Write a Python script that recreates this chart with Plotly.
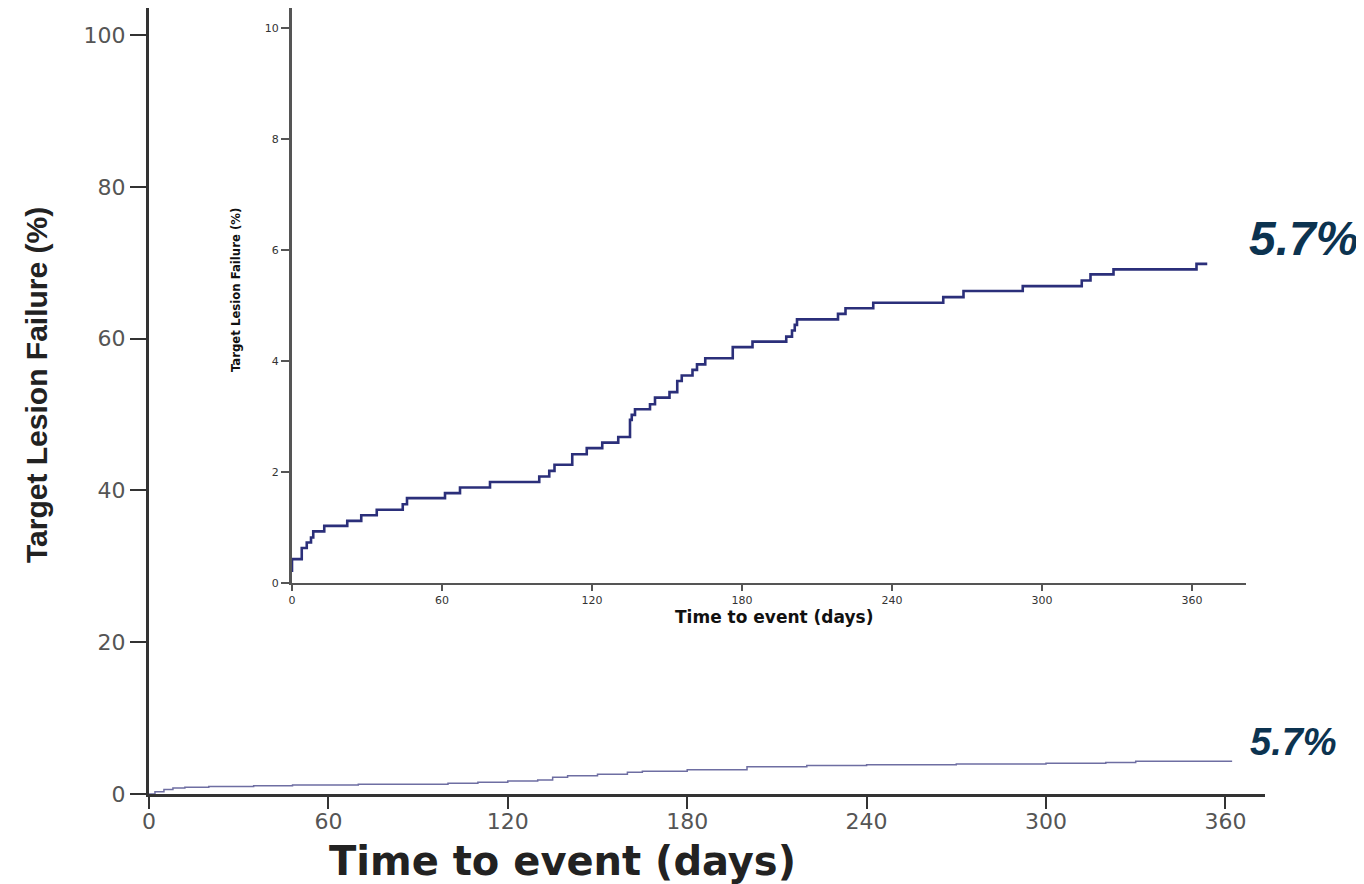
import plotly.graph_objects as go

# ---------------- data ----------------
# Inset Kaplan-Meier style step curve (days, % failure)
inset_days = [0, 0, 3.9, 5.9, 7.6, 8.5, 12.9, 22.1, 27.7, 33.9, 44.3, 46.0, 61.2, 67.2,
              79.2, 98.9, 102.9, 105.0, 112.1, 117.9, 124.1, 130.5, 135.2, 135.9, 137.2,
              143.2, 145.2, 151.0, 154.1, 155.9, 160.2, 162.0, 165.3, 176.3, 184.2, 197.7,
              200.0, 201.1, 202.0, 218.4, 221.4, 232.5, 260.5, 268.6, 292.3, 315.9, 319.4,
              328.6, 361.8, 366.1]
inset_tlf = [0.2, 0.43, 0.63, 0.73, 0.82, 0.93, 1.03, 1.12, 1.22, 1.32, 1.42, 1.53, 1.62, 1.72,
             1.82, 1.92, 2.02, 2.13, 2.32, 2.43, 2.53, 2.63, 2.94, 3.03, 3.13,
             3.22, 3.34, 3.44, 3.64, 3.74, 3.84, 3.94, 4.05, 4.25, 4.35, 4.44,
             4.55, 4.65, 4.75, 4.85, 4.95, 5.05, 5.15, 5.26, 5.35, 5.45, 5.56,
             5.65, 5.75, 5.75]

# Main panel curve (0-100 % scale)
main_days = [0, 2, 5, 8, 12, 20, 35, 48, 70, 100, 110, 120, 130, 135, 140, 150, 160, 165,
             180, 200, 220, 240, 270, 300, 320, 330, 362]
main_tlf = [0, 0.3, 0.6, 0.8, 0.9, 1.0, 1.1, 1.2, 1.3, 1.4, 1.55, 1.7, 1.85, 2.2, 2.4, 2.6,
            2.85, 3.0, 3.2, 3.6, 3.75, 3.85, 3.95, 4.05, 4.15, 4.3, 4.4]

main_yticks = [0, 20, 40, 60, 80, 100]
inset_yticks = [0, 2, 4, 6, 8, 10]
xticks = [0, 60, 120, 180, 240, 300, 360]

final_label = "5.7%"
y_title = "Target Lesion Failure (%)"
x_title = "Time to event (days)"

# ---------------- layout geometry (page pixels) ----------------
PAGE_W, PAGE_H = 1364, 884
BODY = 8                                   # default html body margin
W, H = PAGE_W - BODY, PAGE_H - BODY
L, R, T, B = 149, 1265, 8, 794              # main plot area (page coords)
PW, PH = R - L, B - T
px_per_day_main = 2.99
px_per_pct_main = 7.59
inset_left, inset_right, inset_bottom, inset_top = 292, 1246, 583, 8
px_per_day_inset = 2.5
px_per_pct_inset = 55.5


def fx(px):
    return (px - L) / PW


def fy(py):
    return (B - py) / PH


fig = go.Figure()

fig.add_trace(go.Scatter(
    x=main_days, y=main_tlf, mode="lines", line_shape="hv",
    line=dict(color="#6e6ea2", width=1.5), xaxis="x", yaxis="y",
    showlegend=False, hoverinfo="skip"))

fig.add_trace(go.Scatter(
    x=inset_days, y=inset_tlf, mode="lines", line_shape="hv",
    line=dict(color="#2b2f7a", width=2.6), xaxis="x2", yaxis="y2",
    showlegend=False, hoverinfo="skip"))

main_tickfont = dict(family="DejaVu Sans", size=22, color="#555555")
inset_tickfont = dict(family="DejaVu Sans", size=11, color="#333333")

fig.update_layout(
    width=W, height=H,
    margin=dict(l=L - BODY, r=PAGE_W - R, t=T - BODY, b=PAGE_H - B, pad=0),
    paper_bgcolor="white", plot_bgcolor="white",
    xaxis=dict(
        domain=[0, 1], range=[0, PW / px_per_day_main],
        tickvals=xticks, ticks="outside", ticklen=12, tickwidth=2, tickcolor="#333333",
        ticklabelstandoff=-6,
        showline=True, linecolor="#333333", linewidth=3,
        showgrid=False, zeroline=False, tickfont=main_tickfont, anchor="y"),
    yaxis=dict(
        domain=[0, 1], range=[0, PH / px_per_pct_main],
        tickvals=main_yticks, ticks="outside", ticklen=16, tickwidth=2, tickcolor="#333333",
        showline=True, linecolor="#333333", linewidth=3,
        showgrid=False, zeroline=False, tickfont=main_tickfont, anchor="x"),
    xaxis2=dict(
        domain=[fx(inset_left), fx(inset_right)],
        range=[0, (inset_right - inset_left) / px_per_day_inset],
        tickvals=xticks, ticks="outside", ticklen=6, tickwidth=1.5, tickcolor="#555555",
        showline=True, linecolor="#555555", linewidth=2,
        showgrid=False, zeroline=False, tickfont=inset_tickfont, anchor="y2"),
    yaxis2=dict(
        domain=[fy(inset_bottom), fy(inset_top)],
        range=[0, (inset_bottom - inset_top) / px_per_pct_inset],
        tickvals=inset_yticks, ticks="outside", ticklen=8, tickwidth=1.5, tickcolor="#555555",
        showline=True, linecolor="#555555", linewidth=3,
        showgrid=False, zeroline=False, tickfont=inset_tickfont, anchor="x2"),
    annotations=[
        dict(text=y_title, xref="paper", yref="paper", x=fx(36), y=fy(385),
             textangle=-90, showarrow=False, xanchor="center", yanchor="middle",
             font=dict(family="Liberation Sans", size=30, color="#222222", weight="bold")),
        dict(text=x_title, xref="paper", yref="paper", x=fx(562), y=fy(861),
             showarrow=False, xanchor="center", yanchor="middle",
             font=dict(family="DejaVu Sans", size=40, color="#222222", weight="bold")),
        dict(text=y_title, xref="paper", yref="paper", x=fx(235), y=fy(290),
             textangle=-90, showarrow=False, xanchor="center", yanchor="middle",
             font=dict(family="DejaVu Sans Condensed", size=13, color="#111111", weight="bold")),
        dict(text=x_title, xref="paper", yref="paper", x=fx(774), y=fy(617),
             showarrow=False, xanchor="center", yanchor="middle",
             font=dict(family="DejaVu Sans", size=17, color="#111111", weight="bold")),
        dict(text=final_label, xref="paper", yref="paper", x=fx(1303), y=fy(238),
             showarrow=False, xanchor="center", yanchor="middle",
             font=dict(family="Liberation Sans", size=48, color="#0c3350",
                       weight="bold", style="italic")),
        dict(text=final_label, xref="paper", yref="paper", x=fx(1293), y=fy(742),
             showarrow=False, xanchor="center", yanchor="middle",
             font=dict(family="Liberation Sans", size=38, color="#0c3350",
                       weight="bold", style="italic")),
    ],
)

fig.write_html("out.html")
